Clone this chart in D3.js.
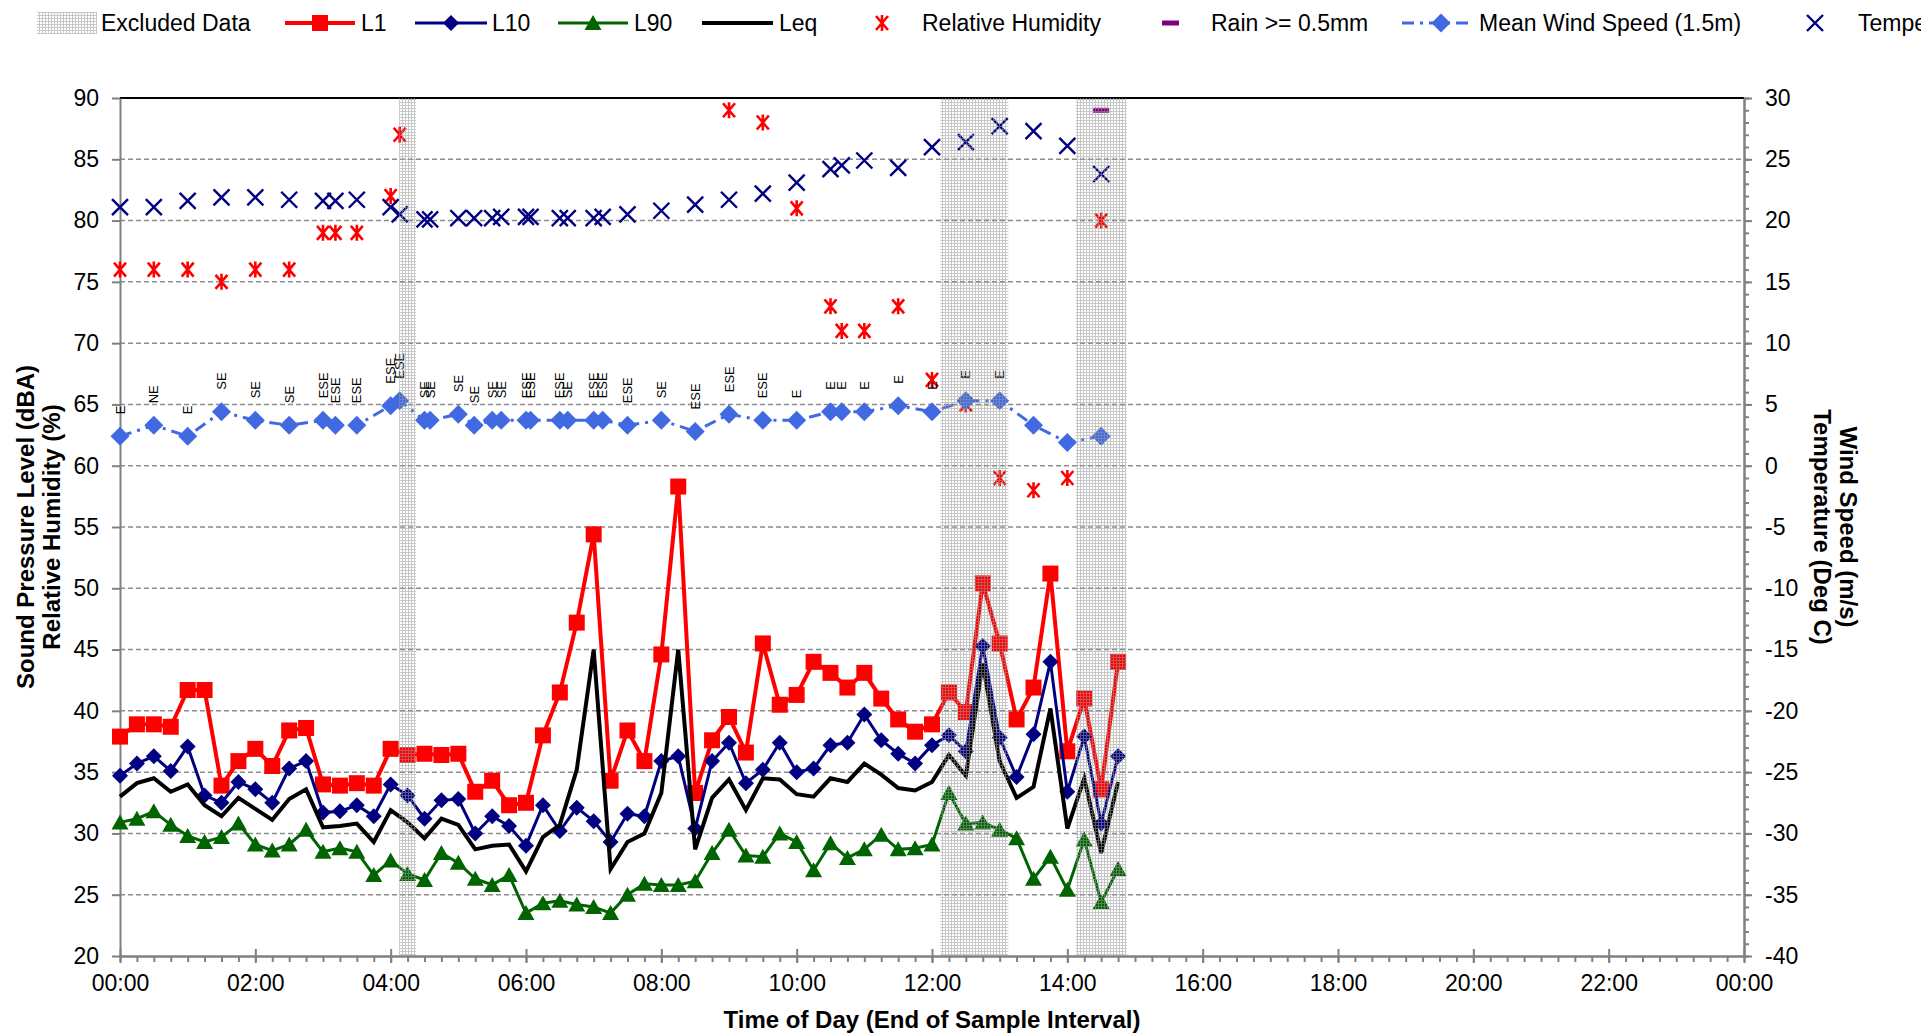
<!DOCTYPE html>
<html>
<head>
<meta charset="utf-8">
<script src="https://cdn.jsdelivr.net/npm/d3@7"></script>
<style>
  body { margin: 0; background: #fff; }
  svg { display: block; font-family: Arial, "Liberation Sans", sans-serif; }
</style>
</head>
<body>
<svg id="chart" width="1921" height="1033"></svg>
<script>
// Noise samples, one every 15 minutes from 00:00 (end of interval)
const sampleMinutes = 15;
const l1Values = [37.9, 38.9, 38.9, 38.7, 41.7, 41.7, 33.9, 35.9, 36.9, 35.5, 38.4, 38.6, 34.0, 33.9, 34.1, 33.9,
  36.9, 36.4, 36.5, 36.4, 36.5, 33.4, 34.3, 32.3, 32.5, 38.0, 41.5, 47.2, 54.4, 34.3, 38.4, 35.9,
  44.6, 58.3, 33.3, 37.6, 39.5, 36.6, 45.5, 40.5, 41.3, 44.0, 43.1, 41.9, 43.1, 41.0, 39.3, 38.3,
  38.9, 41.5, 39.9, 50.4, 45.5, 39.3, 41.9, 51.2, 36.7, 41.0, 33.6, 44.0];
const l10Values = [34.7, 35.7, 36.3, 35.1, 37.1, 33.1, 32.5, 34.2, 33.6, 32.5, 35.3, 35.9, 31.7, 31.8, 32.3, 31.4,
  34.0, 33.1, 31.2, 32.7, 32.8, 30.0, 31.4, 30.6, 29.0, 32.3, 30.2, 32.1, 31.0, 29.3, 31.6, 31.4,
  35.9, 36.3, 30.4, 35.9, 37.4, 34.1, 35.2, 37.4, 35.0, 35.3, 37.2, 37.4, 39.7, 37.6, 36.5, 35.7,
  37.2, 38.0, 36.7, 45.3, 37.8, 34.6, 38.1, 44.0, 33.4, 37.9, 30.8, 36.3];
const l90Values = [30.9, 31.2, 31.8, 30.7, 29.8, 29.3, 29.7, 30.8, 29.1, 28.6, 29.1, 30.3, 28.5, 28.8, 28.5, 26.6,
  27.8, 26.7, 26.2, 28.4, 27.6, 26.3, 25.8, 26.6, 23.5, 24.3, 24.5, 24.2, 24.0, 23.5, 25.0, 25.9,
  25.8, 25.8, 26.1, 28.4, 30.3, 28.2, 28.1, 30.0, 29.3, 27.0, 29.2, 28.0, 28.7, 29.9, 28.7, 28.8,
  29.1, 33.3, 30.8, 30.9, 30.3, 29.6, 26.3, 28.1, 25.4, 29.5, 24.4, 27.1];
const leqValues = [33.0, 34.1, 34.5, 33.4, 34.0, 32.3, 31.4, 32.9, 32.0, 31.1, 32.8, 33.6, 30.5, 30.6, 30.8, 29.3,
  31.9, 30.9, 29.6, 31.2, 30.7, 28.7, 29.0, 29.1, 26.9, 29.7, 30.7, 35.2, 45.0, 27.1, 29.3, 30.0,
  33.3, 45.0, 28.7, 32.9, 34.4, 31.9, 34.5, 34.4, 33.2, 33.0, 34.5, 34.2, 35.7, 34.8, 33.7, 33.5,
  34.2, 36.4, 34.7, 43.9, 35.9, 32.9, 33.8, 40.2, 30.4, 34.5, 28.4, 34.2];

// Weather station records
const weatherTimes = ["00:00", "00:30", "01:00", "01:30", "02:00", "02:30", "03:00", "03:11", "03:30", "04:00",
  "04:08", "04:30", "04:35", "05:00", "05:14", "05:30", "05:38", "06:00", "06:04", "06:30",
  "06:37", "07:00", "07:08", "07:30", "08:00", "08:30", "09:00", "09:30", "10:00", "10:30",
  "10:40", "11:00", "11:30", "12:00", "12:30", "13:00", "13:30", "14:00", "14:30"];
const humidityValues = [76, 76, 76, 75, 76, 76, 79, 79, 79, 82,
  87, null, null, null, null, null, null, null, null, null,
  null, null, null, null, null, null, 89, 88, 81, 73,
  71, 71, 73, 67, 65, 59, 58, 59, 80];
const temperatureValues = [21.1, 21.1, 21.6, 21.9, 21.9, 21.7, 21.6, 21.6, 21.7, 21.1,
  20.5, 20.1, 20.1, 20.2, 20.2, 20.2, 20.3, 20.3, 20.3, 20.2,
  20.2, 20.2, 20.3, 20.5, 20.8, 21.3, 21.7, 22.2, 23.1, 24.2,
  24.5, 24.9, 24.3, 26.0, 26.4, 27.7, 27.3, 26.1, 23.8];
const windSpeedValues = [2.4, 3.3, 2.4, 4.4, 3.7, 3.3, 3.7, 3.3, 3.3, 4.9,
  5.3, 3.7, 3.7, 4.2, 3.3, 3.7, 3.7, 3.7, 3.7, 3.7,
  3.7, 3.7, 3.7, 3.3, 3.7, 2.8, 4.2, 3.7, 3.7, 4.4,
  4.4, 4.4, 4.9, 4.4, 5.3, 5.3, 3.3, 1.9, 2.4];
const windDirections = ["E", "NE", "E", "SE", "SE", "SE", "ESE", "ESE", "ESE", "ESE",
  "ESE", "SE", "SE", "SE", "SE", "SE", "SE", "ESE", "ESE", "ESE",
  "SE", "ESE", "ESE", "ESE", "SE", "ESE", "ESE", "ESE", "E", "E",
  "E", "E", "E", "E", "E", "E", "", "", ""];
const rainTimes = ["14:30"];
const rainMarkerLevel = [89];

// Sample intervals flagged as excluded
const excludedTimes = ["04:15", "12:15", "12:30", "12:45", "13:00", "14:15", "14:30", "14:45"];

// Axis ticks
const timeTickLabels = ["00:00", "02:00", "04:00", "06:00", "08:00", "10:00", "12:00",
  "14:00", "16:00", "18:00", "20:00", "22:00", "00:00"];
const leftTicks = [20, 25, 30, 35, 40, 45, 50, 55, 60, 65, 70, 75, 80, 85, 90];
const rightTicks = [-40, -35, -30, -25, -20, -15, -10, -5, 0, 5, 10, 15, 20, 25, 30];

// Marker shapes
const squarePath = "M-8,-8H8V8H-8Z";
const diamondPath = "M0,-8L8,0L0,8L-8,0Z";
const trianglePath = "M0,-8L8.5,7L-8.5,7Z";
const windDiamondPath = "M0,-9.5L9.5,0L0,9.5L-9.5,0Z";
const asteriskPath = "M-6,-7L6,7M-6,7L6,-7M0,-8V8";
const crossPath = "M-8,-8L8,8M-8,8L8,-8";

const svg = d3.select("#chart");
const plot = { left: 120, right: 1744, top: 98, bottom: 956 };

const toHours = t => { const [h, m] = t.split(":").map(Number); return h + m / 60; };
const sampleHours = l1Values.map((d, i) => i * sampleMinutes / 60);
const weatherHours = weatherTimes.map(toHours);

const x = d3.scaleLinear().domain([0, 24]).range([plot.left, plot.right]);
const yLeft = d3.scaleLinear().domain([20, 90]).range([plot.bottom, plot.top]);
const yRight = d3.scaleLinear().domain([-40, 30]).range([plot.bottom, plot.top]);

// Hatch pattern for excluded data
const defs = svg.append("defs");
const hatch = defs.append("pattern").attr("id", "hatch")
  .attr("patternUnits", "userSpaceOnUse").attr("width", 3).attr("height", 3);
hatch.append("path").attr("d", "M0 0.5H3M0.5 0V3").attr("stroke", "#9a9a9a").attr("stroke-width", 1);

drawGrid();
drawAxes();
drawNoise();
drawWeather();
drawExcluded();
drawTitles();
drawLegend();

function drawGrid() {
  svg.append("g").selectAll("line")
    .data(leftTicks.filter(v => v > 20 && v < 90))
    .join("line")
    .attr("x1", plot.left).attr("x2", plot.right)
    .attr("y1", d => yLeft(d)).attr("y2", d => yLeft(d))
    .attr("stroke", "#8c8c8c").attr("stroke-width", 1.5).attr("stroke-dasharray", "5,3");

  svg.append("line")
    .attr("x1", plot.left).attr("x2", plot.right)
    .attr("y1", yLeft(90)).attr("y2", yLeft(90))
    .attr("stroke", "#000").attr("stroke-width", 2);
}

function styleAxis(g) {
  g.attr("font-family", null).attr("font-size", null);
  g.select(".domain").attr("stroke", "#808080").attr("stroke-width", 2);
  g.selectAll(".tick line").attr("stroke", "#808080").attr("stroke-width", 2);
}

function drawAxes() {
  // left
  svg.append("g").attr("transform", `translate(${plot.left},0)`)
    .call(d3.axisLeft(yLeft).tickValues(leftTicks).tickSize(8).tickSizeOuter(0).tickPadding(13))
    .call(styleAxis)
    .selectAll("text").attr("font-size", 23).attr("fill", "#000");

  // right, minor then major
  svg.append("g").attr("transform", `translate(${plot.right},0)`)
    .call(d3.axisRight(yRight).tickValues(d3.range(-40, 31, 1)).tickSize(5).tickSizeOuter(0).tickFormat(""))
    .call(styleAxis);
  svg.append("g").attr("transform", `translate(${plot.right},0)`)
    .call(d3.axisRight(yRight).tickValues(rightTicks).tickSize(8).tickSizeOuter(0).tickPadding(13)
      .tickFormat(d => String(d)))
    .call(styleAxis)
    .selectAll("text").attr("font-size", 23).attr("fill", "#000");

  // bottom, minor every sample interval then major every 2 h
  svg.append("g").attr("transform", `translate(0,${plot.bottom})`)
    .call(d3.axisBottom(x).tickValues(d3.range(0, 24.01, sampleMinutes / 60)).tickSize(6).tickSizeOuter(0).tickFormat(""))
    .call(styleAxis);
  const bottom = svg.append("g").attr("transform", `translate(0,${plot.bottom})`)
    .call(d3.axisBottom(x).tickValues(d3.range(0, 24.01, 2)).tickSize(7).tickSizeOuter(0).tickPadding(12)
      .tickFormat((d, i) => timeTickLabels[i]))
    .call(styleAxis);
  bottom.selectAll(".tick line").attr("y1", -7);
  bottom.selectAll("text").attr("font-size", 23).attr("fill", "#000");
}

function drawSeries(values, color, width, marker) {
  const pts = values.map((v, i) => [sampleHours[i], v]);
  const line = d3.line().x(d => x(d[0])).y(d => yLeft(d[1]));
  const g = svg.append("g");
  g.append("path").datum(pts).attr("d", line)
    .attr("fill", "none").attr("stroke", color).attr("stroke-width", width).attr("stroke-linejoin", "miter");
  if (marker) {
    g.selectAll(".m").data(pts).join("path").attr("class", "m")
      .attr("transform", d => `translate(${x(d[0])},${yLeft(d[1])})`)
      .attr("d", marker).attr("fill", color);
  }
}

function drawNoise() {
  drawSeries(l1Values, "#ff0000", 4, squarePath);
  drawSeries(l10Values, "#000080", 3, diamondPath);
  drawSeries(l90Values, "#006400", 3, trianglePath);
  drawSeries(leqValues, "#000000", 4, null);
}

function drawWeather() {
  const rh = weatherHours.map((h, i) => [h, humidityValues[i]]).filter(d => d[1] != null);
  svg.append("g").selectAll("path").data(rh).join("path")
    .attr("transform", d => `translate(${x(d[0])},${yLeft(d[1])})`)
    .attr("d", asteriskPath).attr("fill", "none").attr("stroke", "#ff0000").attr("stroke-width", 2.6);

  svg.append("g").selectAll("rect").data(rainTimes).join("rect")
    .attr("x", d => x(toHours(d)) - 8).attr("y", (d, i) => yLeft(rainMarkerLevel[i]) - 2.5)
    .attr("width", 16).attr("height", 5).attr("fill", "#800080");

  const ws = weatherHours.map((h, i) => ({ h, v: windSpeedValues[i], dir: windDirections[i] }));
  const wg = svg.append("g");
  wg.append("path").datum(ws)
    .attr("d", d3.line().x(d => x(d.h)).y(d => yRight(d.v)))
    .attr("fill", "none").attr("stroke", "#4169e1").attr("stroke-width", 3)
    .attr("stroke-dasharray", "12,6,3,6");
  wg.selectAll(".wd").data(ws).join("path").attr("class", "wd")
    .attr("transform", d => `translate(${x(d.h)},${yRight(d.v)})`)
    .attr("d", windDiamondPath).attr("fill", "#4169e1");
  wg.selectAll("text").data(ws.filter(d => d.dir)).join("text")
    .attr("transform", d => `translate(${x(d.h)},${yRight(d.v) - 22}) rotate(-90)`)
    .attr("text-anchor", "start").attr("dominant-baseline", "central")
    .attr("font-size", 13).attr("fill", "#000").text(d => d.dir);

  svg.append("g").selectAll("path").data(weatherHours.map((h, i) => [h, temperatureValues[i]])).join("path")
    .attr("transform", d => `translate(${x(d[0])},${yRight(d[1])})`)
    .attr("d", crossPath).attr("fill", "none").attr("stroke", "#000080").attr("stroke-width", 2.4);
}

function drawExcluded() {
  const w = x(sampleMinutes / 60) - x(0);
  svg.append("g").selectAll("rect").data(excludedTimes).join("rect")
    .attr("x", d => x(toHours(d)) - w / 2).attr("y", plot.top)
    .attr("width", w).attr("height", plot.bottom - plot.top)
    .attr("fill", "url(#hatch)").attr("opacity", 0.55);
}

function drawTitles() {
  const cy = (plot.top + plot.bottom) / 2;
  const left = svg.append("text").attr("transform", `translate(26,${cy}) rotate(-90)`)
    .attr("text-anchor", "middle").attr("font-size", 24).attr("font-weight", "bold");
  left.append("tspan").attr("x", 0).attr("dy", "0.35em").text("Sound Pressure Level (dBA)");
  left.append("tspan").attr("x", 0).attr("dy", "1.05em").text("Relative Humidity (%)");

  const right = svg.append("text").attr("transform", `translate(1848,${cy}) rotate(90)`)
    .attr("text-anchor", "middle").attr("font-size", 24).attr("font-weight", "bold");
  right.append("tspan").attr("x", 0).attr("dy", "0.35em").text("Wind Speed (m/s)");
  right.append("tspan").attr("x", 0).attr("dy", "1.05em").text("Temperature (Deg C)");

  svg.append("text").attr("x", (plot.left + plot.right) / 2).attr("y", 1019)
    .attr("text-anchor", "middle").attr("dominant-baseline", "central")
    .attr("font-size", 24).attr("font-weight", "bold").text("Time of Day (End of Sample Interval)");
}

function drawLegend() {
  const ly = 23;
  const g = svg.append("g").attr("font-size", 23);
  const label = (tx, text) => g.append("text").attr("x", tx).attr("y", ly)
    .attr("dominant-baseline", "central").text(text);
  const seg = (x1, x2, color, w, dash) => g.append("line").attr("x1", x1).attr("x2", x2)
    .attr("y1", ly).attr("y2", ly).attr("stroke", color).attr("stroke-width", w)
    .attr("stroke-dasharray", dash || null);
  const mark = (mx, d, fill, stroke, sw) => g.append("path").attr("d", d)
    .attr("transform", `translate(${mx},${ly})`).attr("fill", fill)
    .attr("stroke", stroke || "none").attr("stroke-width", sw || 0);

  g.append("rect").attr("x", 37).attr("y", 12).attr("width", 60).attr("height", 22)
    .attr("fill", "url(#hatch)").attr("opacity", 0.55);
  label(101, "Excluded Data");

  seg(285, 355, "#ff0000", 4); mark(320, squarePath, "#ff0000"); label(361, "L1");
  seg(415, 487, "#000080", 3); mark(451, diamondPath, "#000080"); label(492, "L10");
  seg(558, 628, "#006400", 3); mark(593, trianglePath, "#006400"); label(634, "L90");
  seg(702, 773, "#000000", 4); label(779, "Leq");
  mark(882, asteriskPath, "none", "#ff0000", 2.6); label(922, "Relative Humidity");
  g.append("rect").attr("x", 1162).attr("y", ly - 2.5).attr("width", 17).attr("height", 5).attr("fill", "#800080");
  label(1211, "Rain >= 0.5mm");
  seg(1402, 1473, "#4169e1", 3, "12,6,3,6"); mark(1441, windDiamondPath, "#4169e1"); label(1479, "Mean Wind Speed (1.5m)");
  mark(1815, crossPath, "none", "#000080", 2.4); label(1858, "Temperature");
}
</script>
</body>
</html>
